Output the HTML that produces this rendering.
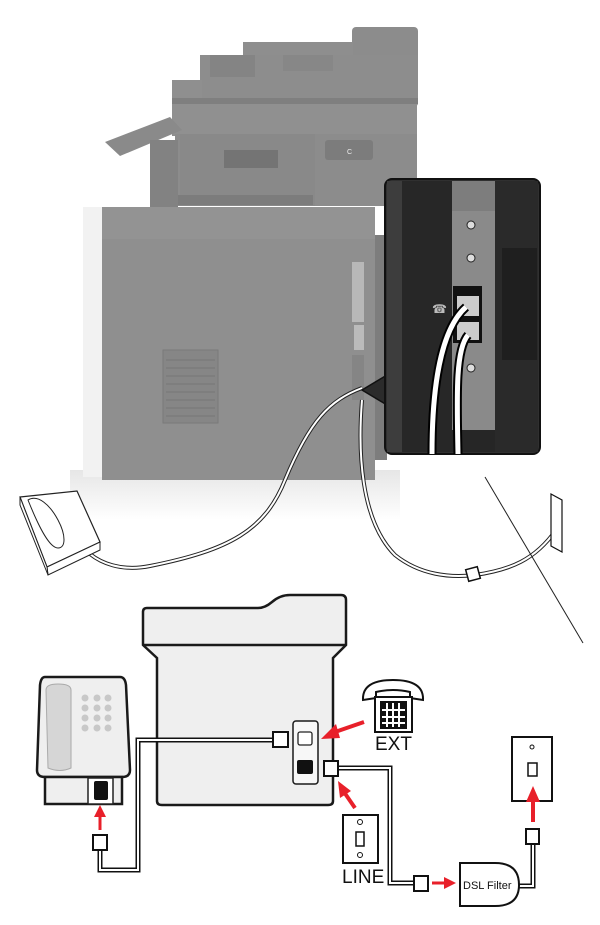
<!DOCTYPE html>
<html><head><meta charset="utf-8"><style>
html,body{margin:0;padding:0;background:#fff;}
svg{display:block;}
text{font-family:"Liberation Sans",Arial,sans-serif;}
</style></head><body>
<svg width="600" height="925" viewBox="0 0 600 925" xmlns="http://www.w3.org/2000/svg">
<defs>
<linearGradient id="flr" x1="0" y1="0" x2="0" y2="1"><stop offset="0" stop-color="#e6e6e6"/><stop offset="1" stop-color="#fff"/></linearGradient>
</defs>
<rect x="70" y="470" width="330" height="50" fill="url(#flr)"/>
<!-- ADF / scanner -->
<rect x="352" y="27" width="66" height="80" rx="4" fill="#8c8c8c"/>
<rect x="243" y="42" width="110" height="15" fill="#8e8e8e"/>
<rect x="200" y="55" width="218" height="45" fill="#8d8d8d"/>
<rect x="210" y="55" width="45" height="22" fill="#848484"/>
<rect x="283" y="55" width="50" height="16" fill="#878787"/>
<rect x="172" y="80" width="30" height="20" fill="#8f8f8f"/>
<rect x="172" y="98" width="246" height="6" fill="#7f7f7f"/>
<rect x="172" y="104" width="245" height="32" fill="#909090"/>
<!-- mid -->
<rect x="175" y="134" width="242" height="72" fill="#8c8c8c"/>
<polygon points="105,142 170,117 182,130 120,156" fill="#8a8a8a"/>
<rect x="150" y="140" width="28" height="70" fill="#828282"/>
<rect x="180" y="134" width="135" height="72" fill="#898989"/>
<rect x="224" y="150" width="54" height="18" fill="#747474"/>
<rect x="178" y="195" width="135" height="10" fill="#7c7c7c"/>
<rect x="325" y="140" width="48" height="20" rx="3" fill="#7c7c7c"/>
<text x="347" y="154" font-size="7" fill="#eee">C</text>
<!-- lower cabinet -->
<rect x="83" y="207" width="22" height="270" fill="#f2f2f2"/>
<rect x="102" y="207" width="273" height="273" fill="#8f8f8f"/>
<rect x="102" y="207" width="273" height="32" fill="#939393"/>
<rect x="375" y="235" width="12" height="225" fill="#7d7d7d"/>
<rect x="163" y="350" width="55" height="73" fill="#868686" stroke="#7a7a7a"/>
<g stroke="#777" stroke-width="1">
<line x1="166" y1="360" x2="215" y2="360"/><line x1="166" y1="368" x2="215" y2="368"/><line x1="166" y1="376" x2="215" y2="376"/><line x1="166" y1="384" x2="215" y2="384"/><line x1="166" y1="392" x2="215" y2="392"/><line x1="166" y1="400" x2="215" y2="400"/><line x1="166" y1="408" x2="215" y2="408"/><line x1="166" y1="416" x2="215" y2="416"/>
</g>
<rect x="352" y="262" width="12" height="60" fill="#b8b8b8"/>
<rect x="354" y="325" width="10" height="25" fill="#bbb"/>
<rect x="352" y="355" width="12" height="45" fill="#858585"/>
<!-- cables top -->
<path d="M362 388 C330 400 310 420 285 480 C265 530 230 550 150 566 C120 572 100 562 90 554" fill="none" stroke="#222" stroke-width="4"/>
<path d="M362 388 C330 400 310 420 285 480 C265 530 230 550 150 566 C120 572 100 562 90 554" fill="none" stroke="#fff" stroke-width="2"/>
<path d="M362 400 C358 450 360 520 395 555 C420 575 450 578 475 575 C510 570 535 560 556 530" fill="none" stroke="#222" stroke-width="4"/>
<path d="M362 400 C358 450 360 520 395 555 C420 575 450 578 475 575 C510 570 535 560 556 530" fill="none" stroke="#fff" stroke-width="2"/>
<rect x="467" y="568" width="12" height="12" fill="#fff" stroke="#111" stroke-width="1.5" transform="rotate(-15 473 574)"/>
<polygon points="551,494 562,500 562,552 551,546" fill="#fff" stroke="#111" stroke-width="1.2"/>
<!-- phone top -->
<polygon points="20,497 77,491 100,542 47,567" fill="#fff" stroke="#222" stroke-width="1.2"/>
<polygon points="47,567 100,542 100,550 48,575" fill="#fff" stroke="#222" stroke-width="1"/>
<polygon points="20,497 47,567 48,575 20,505" fill="#fff" stroke="#222" stroke-width="1"/>
<path d="M28 500 C38 494 50 505 58 520 C66 535 66 548 58 548 C50 548 40 530 28 500Z" fill="#fff" stroke="#222"/>
<!-- inset -->
<path d="M387 375 L362 390 L387 405" fill="#2b2b2b" stroke="#111" stroke-width="1.5"/>
<rect x="385" y="179" width="155" height="275" rx="7" fill="#303030" stroke="#111" stroke-width="2"/>
<rect x="387" y="181" width="15" height="271" fill="#3d3d3d"/>
<rect x="402" y="181" width="50" height="271" fill="#272727"/>
<rect x="452" y="181" width="43" height="250" fill="#8a8a8a"/>
<rect x="452" y="181" width="43" height="30" fill="#7d7d7d"/>
<rect x="452" y="430" width="43" height="22" fill="#262626"/>
<rect x="495" y="181" width="43" height="271" fill="#2a2a2a"/>
<rect x="502" y="248" width="35" height="112" fill="#1f1f1f"/>
<circle cx="471" cy="225" r="4" fill="#ddd" stroke="#222"/>
<circle cx="471" cy="258" r="4" fill="#ddd" stroke="#222"/>
<circle cx="471" cy="368" r="4" fill="#ddd" stroke="#222"/>
<rect x="453" y="286" width="29" height="57" fill="#111"/>
<rect x="457" y="296" width="22" height="20" fill="#ccc"/>
<rect x="457" y="322" width="22" height="18" fill="#ccc"/>
<text x="432" y="313" font-size="12" fill="#bbb">☎</text>
<path d="M466 307 C440 330 432 390 432 454" fill="none" stroke="#000" stroke-width="9"/>
<path d="M466 307 C440 330 432 390 432 454" fill="none" stroke="#fff" stroke-width="5"/>
<path d="M468 335 C455 350 457 400 458 454" fill="none" stroke="#000" stroke-width="9"/>
<path d="M468 335 C455 350 457 400 458 454" fill="none" stroke="#fff" stroke-width="5"/>
<line x1="485" y1="477" x2="583" y2="643" stroke="#222" stroke-width="1"/>

<!-- bottom diagram -->
<g stroke="#1a1a1a" stroke-width="2.5" fill="#efefef">
<path d="M147 608 L258 608 Q265 608 272 602 Q280 595 290 595 L341 595 Q346 595 346 600 L346 645 L333 658 L333 801 Q333 805 328 805 L162 805 Q157 805 157 801 L157 658 L143 645 L143 612 Q143 608 147 608Z"/>
<line x1="143" y1="645" x2="346" y2="645"/>
<path d="M45 677 L120 677 Q125 677 126 685 L130 770 Q130 777 122 777 L45 777 Q37 777 37 770 L40 685 Q41 677 45 677Z"/>
<rect x="45" y="777" width="77" height="27"/>
<rect x="293" y="721" width="25" height="63" rx="3" fill="#f7f7f7" stroke-width="1.5"/>
</g>
<path d="M46 690 Q46 684 58 684 Q71 684 71 690 L71 768 Q60 773 48 768 Z" fill="#d6d6d6" stroke="#aaa"/>
<g fill="#c8c8c8">
<circle cx="85" cy="698" r="3.5"/><circle cx="97" cy="698" r="3.5"/><circle cx="108" cy="698" r="3.5"/>
<circle cx="85" cy="708" r="3.5"/><circle cx="97" cy="708" r="3.5"/><circle cx="108" cy="708" r="3.5"/>
<circle cx="85" cy="718" r="3.5"/><circle cx="97" cy="718" r="3.5"/><circle cx="108" cy="718" r="3.5"/>
<circle cx="85" cy="728" r="3.5"/><circle cx="97" cy="728" r="3.5"/><circle cx="108" cy="728" r="3.5"/>
</g>
<rect x="88" y="778" width="25" height="26" fill="#fff" stroke="#222" stroke-width="1.5"/>
<rect x="94" y="781" width="14" height="19" rx="2" fill="#111"/>
<rect x="298" y="732" width="14" height="13" rx="2" fill="#fff" stroke="#222" stroke-width="1.3"/>
<rect x="297" y="760" width="16" height="14" rx="2" fill="#111"/>
<!-- cords -->
<g fill="none" stroke="#111" stroke-width="5"><path d="M100 850 L100 870 L138 870 L138 740 L273 740"/><path d="M338 768 L390 768 L390 883 L414 883"/><path d="M518 886 L533 886 L533 845"/></g>
<g fill="none" stroke="#fff" stroke-width="2"><path d="M100 850 L100 870 L138 870 L138 740 L273 740"/><path d="M338 768 L390 768 L390 883 L414 883"/><path d="M518 886 L533 886 L533 845"/></g>
<rect x="273" y="732" width="15" height="15" fill="#fff" stroke="#111" stroke-width="2"/>
<rect x="324" y="761" width="14" height="15" fill="#fff" stroke="#111" stroke-width="2"/>
<rect x="93" y="835" width="14" height="15" fill="#fff" stroke="#111" stroke-width="2"/>
<rect x="414" y="876" width="14" height="15" fill="#fff" stroke="#111" stroke-width="2"/>
<rect x="526" y="829" width="13" height="15" fill="#fff" stroke="#111" stroke-width="2"/>
<!-- EXT phone -->
<path d="M363 700 Q362 680 393 680 Q424 680 423 700 L410 698 L410 692 Q393 688 376 692 L376 698 Z" fill="#fff" stroke="#111" stroke-width="2"/>
<rect x="375" y="697" width="37" height="35" fill="#fff" stroke="#111" stroke-width="2"/>
<rect x="380" y="701" width="27" height="28" fill="#111"/>
<g fill="#fff"><rect x="386" y="703" width="2" height="24"/><rect x="392" y="703" width="2" height="24"/><rect x="398" y="703" width="2" height="24"/><rect x="382" y="709" width="23" height="2"/><rect x="382" y="716" width="23" height="2"/><rect x="382" y="722" width="23" height="2"/></g>
<text x="375" y="750" font-size="19" fill="#111">EXT</text>
<!-- wall jacks -->
<rect x="343" y="815" width="35" height="48" fill="#fff" stroke="#111" stroke-width="2"/>
<circle cx="360" cy="822" r="2.5" fill="none" stroke="#111"/><circle cx="360" cy="855" r="2.5" fill="none" stroke="#111"/>
<rect x="356" y="832" width="8" height="14" fill="#fff" stroke="#111" stroke-width="1.5"/>
<text x="342" y="883" font-size="19" fill="#111">LINE</text>
<rect x="512" y="737" width="40" height="64" fill="#fff" stroke="#111" stroke-width="2"/>
<circle cx="532" cy="747" r="2" fill="none" stroke="#111"/>
<rect x="528" y="763" width="9" height="13" fill="#fff" stroke="#111" stroke-width="1.5"/>
<!-- DSL filter -->
<path d="M460 863 L495 863 Q519 863 519 885 Q519 906 495 906 L460 906 Z" fill="#fff" stroke="#111" stroke-width="2"/>
<text x="463" y="889" font-size="11" fill="#111">DSL Filter</text>
<!-- red arrows -->
<g fill="#e8202a" stroke="#e8202a">
<path d="M364 722 L335 732" stroke-width="4"/><polygon points="321,739 336,724 340,738" stroke="none"/>
<path d="M355 808 L344 792" stroke-width="4"/><polygon points="338,781 351,791 340,798" stroke="none"/>
<path d="M100 830 L100 815" stroke-width="3"/><polygon points="100,805 106,817 94,817" stroke="none"/>
<path d="M533 822 L533 800" stroke-width="4"/><polygon points="533,786 540,802 526,802" stroke="none"/>
<path d="M432 883 L445 883" stroke-width="3"/><polygon points="456,883 444,877 444,889" stroke="none"/>
</g>
</svg>
</body></html>
